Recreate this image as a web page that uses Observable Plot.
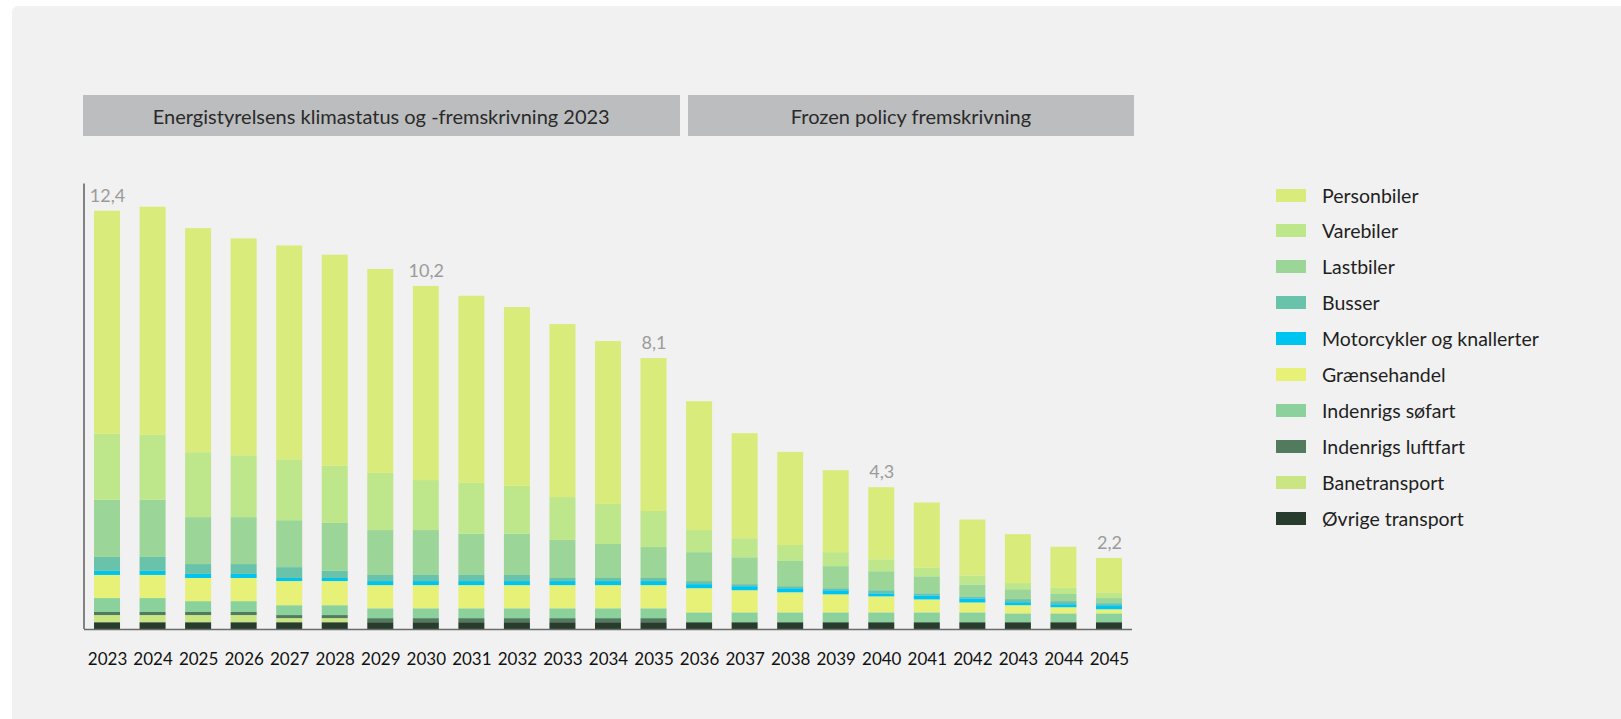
<!DOCTYPE html>
<html>
<head>
<meta charset="utf-8">
<script src="https://cdn.jsdelivr.net/npm/d3@7"></script>
<script src="https://cdn.jsdelivr.net/npm/@observablehq/plot@0.6"></script>
<style>
  html, body { margin: 0; padding: 0; background: #ffffff; }
  body { width: 1621px; height: 719px; overflow: hidden; position: relative; font-family: Lato, "Noto Sans", sans-serif; }
  #panel { position: absolute; left: 12px; top: 6px; right: 0; bottom: 0; background: #f1f1f1; border-top-left-radius: 6px; }
  #chart { position: absolute; left: 0; top: 160px; }
  .hdr { position: absolute; top: 95px; height: 41px; background: #bcbdbf; color: #2a2a2a; font-size: 20px;
         display: flex; align-items: center; justify-content: center; white-space: nowrap; }
  .lg { position: absolute; left: 1276px; height: 24px; display: flex; align-items: center; }
  .lg .sw { width: 30px; height: 13px; }
  .lg .tx { margin-left: 16px; font-size: 19.5px; color: #1f1f1f; white-space: nowrap; }
</style>
</head>
<body>
<div id="panel"></div>
<div id="chart"></div>
<script>
// ---- Data ----
const years = [2023,2024,2025,2026,2027,2028,2029,2030,2031,2032,2033,2034,2035,2036,2037,2038,2039,2040,2041,2042,2043,2044,2045];

// series, stacked bottom to top
const series = ["Øvrige transport","Banetransport","Indenrigs luftfart","Indenrigs søfart","Grænsehandel","Motorcykler og knallerter","Busser","Lastbiler","Varebiler","Personbiler"];
const colors = ["#283c2d","#c9e584","#527a5c","#8bd19c","#e7f177","#00c4f0","#69c2aa","#9bd597","#bde78a","#d9ec7b"];

const ovrige       = [0.20,0.20,0.20,0.20,0.20,0.20,0.20,0.20,0.20,0.20,0.20,0.20,0.20,0.20,0.20,0.20,0.20,0.20,0.20,0.20,0.20,0.20,0.20];
const banetransport= [0.21,0.21,0.21,0.21,0.12,0.12,0,0,0,0,0,0,0,0,0,0,0,0,0,0,0,0,0];
const luftfart     = [0.09,0.09,0.09,0.09,0.09,0.09,0.12,0.12,0.12,0.12,0.12,0.12,0.12,0,0,0,0,0,0,0,0,0,0];
const sofart       = [0.41,0.41,0.32,0.32,0.29,0.29,0.29,0.29,0.29,0.29,0.29,0.29,0.29,0.29,0.29,0.29,0.29,0.29,0.29,0.29,0.26,0.26,0.26];
const graensehandel= [0.68,0.68,0.68,0.68,0.71,0.71,0.68,0.68,0.68,0.68,0.68,0.68,0.68,0.71,0.65,0.59,0.53,0.47,0.38,0.29,0.24,0.18,0.12];
const motorcykler  = [0.12,0.12,0.12,0.12,0.09,0.09,0.12,0.12,0.12,0.12,0.12,0.12,0.12,0.12,0.12,0.12,0.12,0.09,0.12,0.12,0.09,0.09,0.12];
const busser       = [0.41,0.41,0.29,0.29,0.32,0.21,0.18,0.18,0.18,0.18,0.09,0.09,0.09,0.09,0.06,0.06,0.06,0.09,0.06,0.06,0.09,0.09,0.06];
const lastbiler    = [1.68,1.68,1.38,1.38,1.38,1.41,1.32,1.32,1.21,1.21,1.12,1.00,0.91,0.85,0.79,0.74,0.65,0.56,0.50,0.35,0.29,0.21,0.15];
const varebiler    = [1.94,1.91,1.91,1.82,1.79,1.68,1.68,1.47,1.50,1.41,1.26,1.18,1.06,0.65,0.56,0.47,0.41,0.35,0.26,0.26,0.18,0.18,0.15];
const personbiler  = [6.56,6.71,6.59,6.38,6.29,6.21,6.00,5.71,5.50,5.26,5.09,4.79,4.50,3.79,3.09,2.74,2.41,2.12,1.91,1.65,1.44,1.21,1.03];

const seriesValues = [ovrige, banetransport, luftfart, sofart, graensehandel, motorcykler, busser, lastbiler, varebiler, personbiler];

// value labels
const labelYears = [2023, 2030, 2035, 2040, 2045];
const labelTexts = ["12,4", "10,2", "8,1", "4,3", "2,2"];

// scenario headers
const groupLabels = ["Energistyrelsens klimastatus og -fremskrivning 2023", "Frozen policy fremskrivning"];
const groupFrom = [2023, 2036];
const groupTo = [2035, 2045];

// ---- Build tables ----
const data = [];
series.forEach((s, i) => seriesValues[i].forEach((v, j) => data.push({year: years[j], series: s, value: v})));
const totals = years.map((y, j) => d3.sum(seriesValues, arr => arr[j]));
const labelData = labelYears.map((y, i) => ({year: y, text: labelTexts[i], total: totals[years.indexOf(y)]}));

const yAxisLine = (index, scales, values, dims) => {
  const x0 = dims.marginLeft;
  return d3.create("svg:line")
    .attr("x1", x0).attr("x2", x0)
    .attr("y1", scales.y(0)).attr("y2", scales.y(13.1))
    .attr("stroke", "#5e5e5e").attr("stroke-width", 1.5)
    .node();
};

const plot = Plot.plot({
  width: 1150,
  height: 530,
  marginLeft: 84,
  marginRight: 18,
  marginTop: 27,
  marginBottom: 61,
  style: {background: "transparent", fontFamily: "Lato, 'Noto Sans', sans-serif", overflow: "visible"},
  x: {type: "band", domain: years, paddingInner: 0.429, paddingOuter: 0.22, round: false, label: null},
  y: {domain: [0, 13], axis: null},
  color: {domain: series, range: colors},
  marks: [
    Plot.barY(data, {x: "year", y: "value", fill: "series", order: null}),
    Plot.ruleY([0], {stroke: "#6b6b6b", strokeWidth: 1.5}),
    yAxisLine,
    Plot.axisX({tickSize: 0, tickPadding: 23, fontSize: 17, fill: "#111111", tickFormat: d => String(d), label: null}),
    Plot.text(labelData, {x: "year", y: "total", text: "text", dy: -15, fontSize: 18, fill: "#9b9b9b"})
  ]
});
document.getElementById("chart").appendChild(plot);

// ---- Headers aligned with the x scale ----
const xs = plot.scale("x");
const bw = xs.bandwidth;
const leftOff = [-11, 2];
const rightOff = [13, 12];
groupLabels.forEach((g, i) => {
  const l = xs.apply(groupFrom[i]) + leftOff[i];
  const r = xs.apply(groupTo[i]) + bw + rightOff[i];
  const d = document.createElement("div");
  d.className = "hdr";
  d.style.left = l + "px";
  d.style.width = (r - l) + "px";
  d.textContent = g;
  document.body.appendChild(d);
});

// ---- Legend (top to bottom: reverse stacking order) ----
const legendSeries = series.slice().reverse();
const legendColors = colors.slice().reverse();
legendSeries.forEach((s, i) => {
  const row = document.createElement("div");
  row.className = "lg";
  row.style.top = (195 + 35.9 * i - 12) + "px";
  const sw = document.createElement("div");
  sw.className = "sw";
  sw.style.background = legendColors[i];
  const tx = document.createElement("div");
  tx.className = "tx";
  tx.textContent = s;
  row.appendChild(sw);
  row.appendChild(tx);
  document.body.appendChild(row);
});
</script>
</body>
</html>
